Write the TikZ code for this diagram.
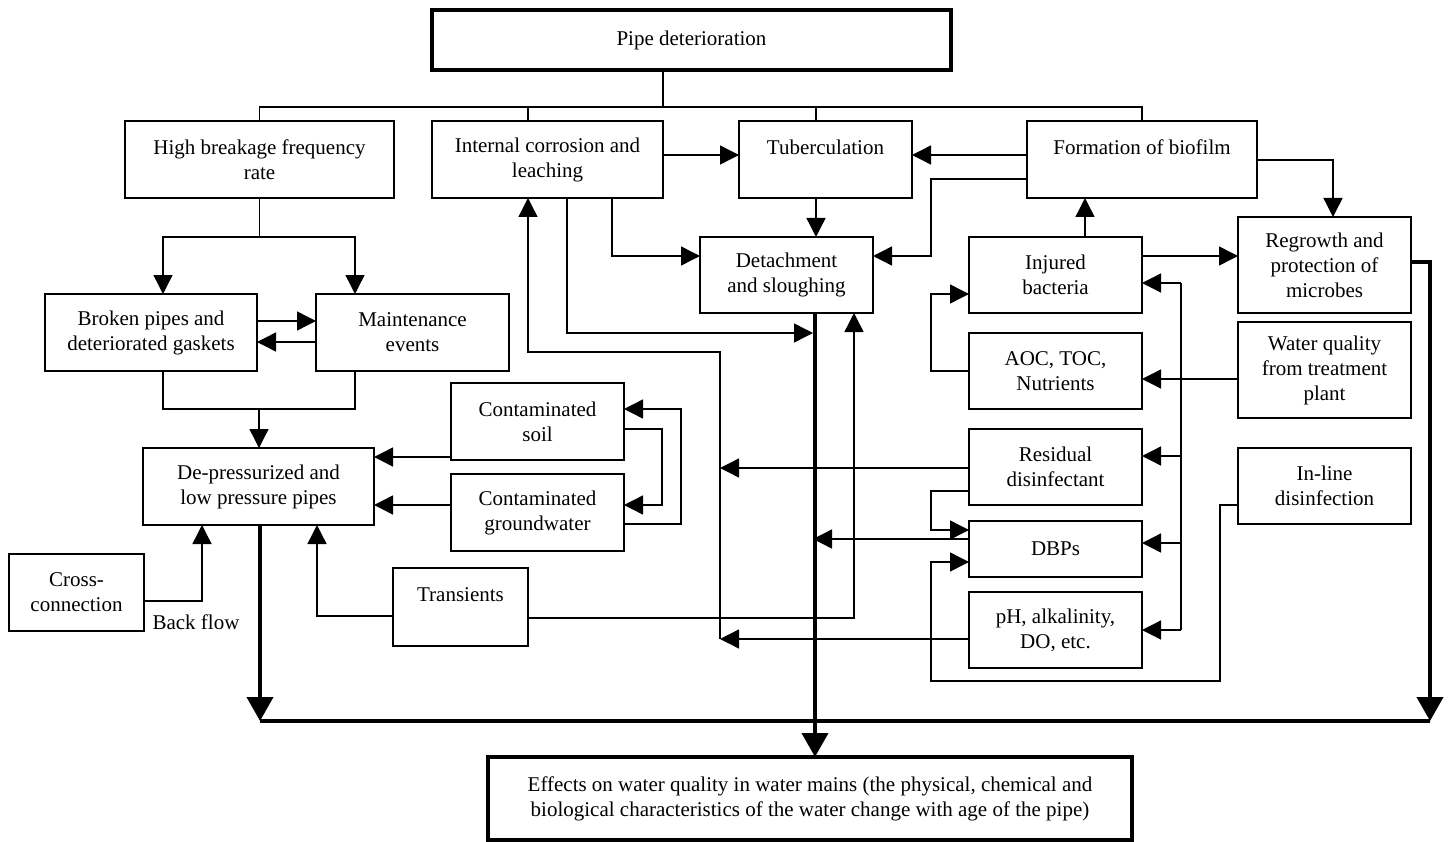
\documentclass[tikz,border=0pt]{standalone}
\usepackage{fontspec}
\setmainfont{Liberation Serif}
\usetikzlibrary{arrows.meta}
\tikzset{
  box/.style={draw, line width=1.5pt, inner sep=0pt, outer sep=0pt, align=center,
    font=\fontsize{21}{25}\selectfont, minimum width=173pt, minimum height=76pt},
  bigbox/.style={box, line width=3.5pt},
  ln/.style={line width=1.4pt},
  arr/.style={line width=1.4pt, -{Triangle[length=19pt,width=19pt]}},
  thk/.style={line width=4pt},
  thkarr/.style={line width=4pt, -{Triangle[length=24pt,width=26pt]}},
  lbl/.style={font=\fontsize{21}{25}\selectfont, inner sep=0pt}
}
\begin{document}
\begin{tikzpicture}[x=1pt,y=-1pt]
\useasboundingbox (0,0) rectangle (1450,842);
% boxes
\node[bigbox, minimum width=519pt, minimum height=60pt] (pipe) at (691.5,40) {Pipe deterioration};
\node[box, minimum width=269pt, minimum height=77pt] (high) at (259.5,159.5) {High breakage frequency\\rate};
\node[box, minimum width=231pt, minimum height=77pt] (corr) at (547.5,159.5) {Internal corrosion and\\leaching};
\node[box, minimum height=77pt] (tub) at (825.5,159.5) {Tuberculation\\~};
\node[box, minimum width=230pt, minimum height=77pt] (bio) at (1142,159.5) {Formation of biofilm\\~};
\node[box] (detach) at (786.5,275) {Detachment\\and sloughing};
\node[box] (injured) at (1055.5,275) {Injured\\bacteria};
\node[box, minimum height=96pt] (regrowth) at (1324.5,265) {Regrowth and\\protection of\\microbes};
\node[box] (aoc) at (1055.5,371) {AOC, TOC,\\Nutrients};
\node[box, minimum height=96pt] (wq) at (1324.5,370) {Water quality\\from treatment\\plant};
\node[box] (resid) at (1055.5,467) {Residual\\disinfectant};
\node[box] (inline) at (1324.5,486) {In-line\\disinfection};
\node[box, minimum height=56pt] (dbps) at (1055.5,549) {DBPs};
\node[box] (ph) at (1055.5,630) {pH, alkalinity,\\DO, etc.};
\node[box, minimum width=212pt, minimum height=77pt] (broken) at (151,332.5) {Broken pipes and\\deteriorated gaskets};
\node[box, minimum width=193pt, minimum height=77pt] (maint) at (412.5,332.5) {Maintenance\\events};
\node[box, minimum width=231pt, minimum height=77pt] (depress) at (258.5,486.5) {De-pressurized and\\low pressure pipes};
\node[box, minimum width=135pt, minimum height=77pt] (cross) at (76.5,592.5) {Cross-\\connection};
\node[lbl] (bf) at (196,622) {Back flow};
\node[box, minimum height=77pt] (soil) at (537.5,421.5) {Contaminated\\soil};
\node[box, minimum height=77pt] (gw) at (537.5,512.5) {Contaminated\\groundwater};
\node[box, minimum width=135pt, minimum height=78pt] (trans) at (460.5,607) {Transients\\~};
\node[bigbox, minimum width=644pt, minimum height=83pt] (effects) at (810,798.5) {Effects on water quality in water mains (the physical, chemical and\\biological characteristics of the water change with age of the pipe)};
% coordinates
\coordinate (busc) at (663,107);
\coordinate (hb) at (259.5,237);
\coordinate (bl) at (260,721);
\coordinate (br) at (1430,721);
\coordinate (t1) at (813,333);
\coordinate (t2) at (813,539);
\coordinate (w1) at (720,639);
\coordinate (w2) at (720,352);
\coordinate (w3) at (720,468);
% top tree
\draw[ln] (pipe.south -| busc) -- (busc);
\draw[ln] (high.north) |- (bio.north |- busc) -- (bio.north);
\draw[ln] (busc -| 528,0) -- (corr.north -| 528,0);
\draw[ln] (busc -| 816,0) -- (tub.north -| 816,0);
% upper right
\draw[arr] (corr.east |- 0,155) -- (tub.west |- 0,155);
\draw[arr] (bio.west |- 0,155) -- (tub.east |- 0,155);
\draw[arr] (tub.south -| 816,0) -- (detach.north -| 816,0);
\draw[arr] (bio.west |- 0,179) -| (931,256) -- (detach.east |- 0,256);
\draw[arr] (bio.east |- 0,160) -| (regrowth.north -| 1333,0);
\draw[arr] (injured.north -| 1085,0) -- (bio.south -| 1085,0);
\draw[arr] (injured.east |- 0,256) -- (regrowth.west |- 0,256);
% left
\draw[ln] (high.south) -- (hb);
\draw[arr] (hb) -| (broken.north -| 163,0);
\draw[arr] (hb) -| (maint.north -| 355,0);
\draw[arr] (broken.east |- 0,321) -- (maint.west |- 0,321);
\draw[arr] (maint.west |- 0,342) -- (broken.east |- 0,342);
\draw[ln] (broken.south -| 163,0) |- (355,409) -- (maint.south -| 355,0);
\draw[arr] (259,409) -- (depress.north -| 259,0);
\draw[arr] (soil.west |- 0,457) -- (depress.east |- 0,457);
\draw[arr] (gw.west |- 0,505) -- (depress.east |- 0,505);
\draw[arr] (soil.east |- 0,429) -| (662,505) -- (gw.east |- 0,505);
\draw[arr] (gw.east |- 0,524) -| (681,409) -- (soil.east |- 0,409);
\draw[arr] (cross.east |- 0,601) -| (depress.south -| 202,0);
\draw[arr] (trans.west |- 0,616) -| (depress.south -| 317,0);
\draw[arr] (trans.east |- 0,618) -| (detach.south -| 854,0);
% corrosion links
\draw[arr] (corr.south -| 612,0) |- (detach.west |- 0,256);
\draw[arr] (corr.south -| 567,0) |- (t1);
\draw[arr] (w1) -- (w2) -| (corr.south -| 528,0);
\draw[arr] (resid.west |- w3) -- (w3);
\draw[arr] (ph.west |- w1) -- (w1);
\draw[arr] (dbps.west |- t2) -- (t2);
% right column
\draw[arr] (resid.west |- 0,491) -| (931,530) -- (dbps.west |- 0,530);
\draw[arr] (inline.west |- 0,505) -| (1220,681) -| (931,562) -- (dbps.west |- 0,562);
\draw[arr] (aoc.west |- 0,371) -| (931,294) -- (injured.west |- 0,294);
\draw[arr] (wq.west |- 0,379) -- (aoc.east |- 0,379);
\draw[ln] (1181,283) -- (1181,630);
\draw[arr] (1181,283) -- (injured.east |- 0,283);
\draw[arr] (1181,456) -- (resid.east |- 0,456);
\draw[arr] (1181,543) -- (dbps.east |- 0,543);
\draw[arr] (1181,630) -- (ph.east |- 0,630);
% thick flows
\draw[thkarr] (depress.south -| bl) -- (bl);
\draw[thk] (bl) -- (br);
\draw[thkarr] (regrowth.east |- 0,262) -| (br);
\draw[thkarr] (detach.south -| 815,0) -- (effects.north -| 815,0);
\end{tikzpicture}
\end{document}
